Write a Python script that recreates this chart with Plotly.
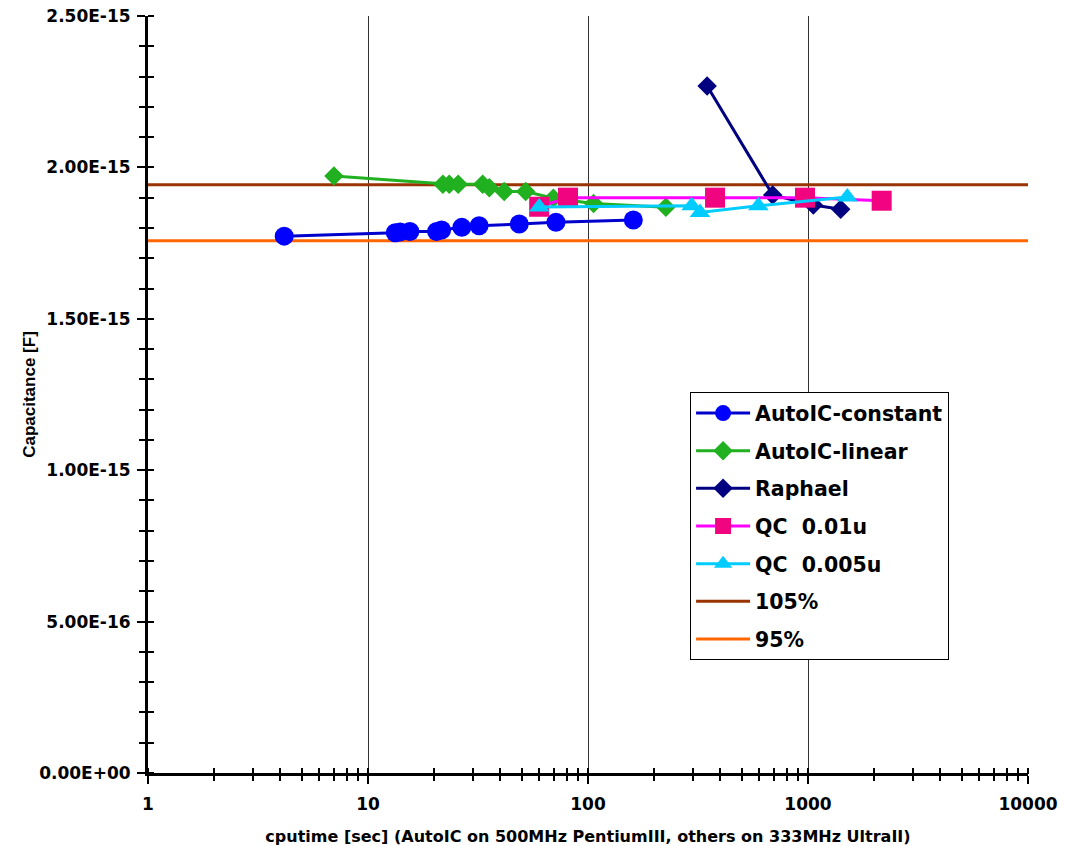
import plotly.graph_objects as go

# ---- data ----
cpu_const = [4.16, 13.3, 14.0, 15.5, 20.5, 21.6, 26.7, 32.0, 48.7, 71.5, 160.7]
cap_const = [1.773e-15, 1.784e-15, 1.787e-15, 1.788e-15, 1.788e-15, 1.793e-15,
             1.802e-15, 1.807e-15, 1.813e-15, 1.819e-15, 1.826e-15]

cpu_lin = [7.0, 21.9, 23.4, 25.7, 33.2, 35.6, 41.6, 52.1, 69.6, 106.0, 226.0]
cap_lin = [1.972e-15, 1.944e-15, 1.944e-15, 1.944e-15, 1.944e-15, 1.933e-15,
           1.920e-15, 1.920e-15, 1.898e-15, 1.881e-15, 1.868e-15]

cpu_raph = [348.0, 691.0, 1057.0, 1408.0]
cap_raph = [2.269e-15, 1.909e-15, 1.876e-15, 1.862e-15]

cpu_qc1 = [60.0, 81.1, 378.0, 969.0, 2162.0]
cap_qc1 = [1.870e-15, 1.900e-15, 1.900e-15, 1.900e-15, 1.890e-15]

cpu_qc05 = [60.0, 296.0, 323.0, 595.0, 1509.0]
cap_qc05 = [1.869e-15, 1.873e-15, 1.851e-15, 1.873e-15, 1.902e-15]

ref_x = [1, 10000]
upper_105 = [1.9425e-15, 1.9425e-15]
lower_95 = [1.7575e-15, 1.7575e-15]

x_tickvals = [1, 10, 100, 1000, 10000]
x_ticktext = ["1", "10", "100", "1000", "10000"]
x_minor = [m * d for d in (1, 10, 100, 1000) for m in range(2, 10)]
y_tickvals = [0, 5e-16, 1e-15, 1.5e-15, 2e-15, 2.5e-15]
y_ticktext = ["0.00E+00", "5.00E-16", "1.00E-15", "1.50E-15", "2.00E-15", "2.50E-15"]

TICKFONT = dict(family="DejaVu Sans", size=17, color="black", weight="bold")
TITLEFONT = dict(family="Liberation Sans", size=17, color="black", weight="bold")

W, H = 1068, 846
ML, MR, MT, MB = 148, 40, 16, 73
PLOT_W, PLOT_H = W - ML - MR, H - MT - MB
INNER = 6  # length of the tick part that reaches into the plot

fig = go.Figure()

# reference lines (behind, on first subplot)
fig.add_trace(go.Scatter(x=ref_x, y=upper_105, mode="lines", name="105%",
                         line=dict(color="#993300", width=3),
                         legendrank=6, legendgroup="g6"))
fig.add_trace(go.Scatter(x=ref_x, y=lower_95, mode="lines", name="95%",
                         line=dict(color="#FF6600", width=3),
                         legendrank=7, legendgroup="g7"))

# data series (second subplot stacked on the same area)
fig.add_trace(go.Scatter(x=cpu_const, y=cap_const, mode="lines+markers",
                         name="AutoIC-constant", xaxis="x2", yaxis="y2",
                         line=dict(color="#0000CC", width=3),
                         marker=dict(symbol="circle", size=19, color="#0000FF"),
                         legendrank=1, legendgroup="g1"))
fig.add_trace(go.Scatter(x=cpu_lin, y=cap_lin, mode="lines+markers",
                         name="AutoIC-linear", xaxis="x2", yaxis="y2",
                         line=dict(color="#20B020", width=3),
                         marker=dict(symbol="diamond", size=15, color="#20B020"),
                         legendrank=2, legendgroup="g2"))
fig.add_trace(go.Scatter(x=cpu_raph, y=cap_raph, mode="lines+markers",
                         name="Raphael", xaxis="x2", yaxis="y2",
                         line=dict(color="#000080", width=3),
                         marker=dict(symbol="diamond", size=15, color="#000080"),
                         legendrank=3, legendgroup="g3"))
fig.add_trace(go.Scatter(x=cpu_qc1, y=cap_qc1, mode="lines+markers",
                         name="QC  0.01u", xaxis="x2", yaxis="y2",
                         line=dict(color="#FF00FF", width=3),
                         marker=dict(symbol="square", size=20, color="#F0047F"),
                         legendrank=4, legendgroup="g4"))
fig.add_trace(go.Scatter(x=cpu_qc05, y=cap_qc05, mode="lines+markers",
                         name="QC  0.005u", xaxis="x2", yaxis="y2",
                         line=dict(color="#00CCFF", width=3),
                         marker=dict(symbol="triangle-up", size=18, color="#00CCFF"),
                         legendrank=5, legendgroup="g5"))

common_x = dict(type="log", range=[0, 4], tickvals=x_tickvals, ticktext=x_ticktext,
                domain=[0, 1])
common_y = dict(range=[0, 2.5e-15], tickvals=y_tickvals, ticktext=y_ticktext,
                domain=[0, 1])

fig.update_layout(
    width=W, height=H,
    margin=dict(l=ML, r=MR, t=MT, b=MB, autoexpand=False),
    paper_bgcolor="white", plot_bgcolor="rgba(0,0,0,0)",
    showlegend=True,
    xaxis=dict(**common_x, anchor="y", showline=True, linecolor="black", linewidth=3,
               ticks="outside", ticklen=8, tickwidth=2, tickcolor="black",
               minor=dict(tickvals=x_minor, ticks="outside", ticklen=5,
                          tickwidth=2, tickcolor="black", showgrid=False),
               showgrid=True, gridcolor="#333333", gridwidth=1,
               zeroline=False, tickfont=TICKFONT, ticklabelstandoff=6,
               title=dict(text="cputime [sec] (AutoIC on 500MHz PentiumIII, others on 333MHz UltraII)",
                          font=dict(family="DejaVu Sans", size=16, color="black", weight="bold"),
                          standoff=19),
               automargin=False),
    yaxis=dict(**common_y, anchor="x", showline=True, linecolor="black", linewidth=3,
               ticks="outside", ticklen=8, tickwidth=2, tickcolor="black",
               minor=dict(dtick=1e-16, ticks="outside", ticklen=6,
                          tickwidth=2, tickcolor="black", showgrid=False),
               showgrid=False, zeroline=False, tickfont=TICKFONT,
               ticklabelstandoff=3,
               title=dict(text="Capacitance [F]", font=TITLEFONT, standoff=0),
               automargin=False),
    # second axes pair: same mapping, shifted line so their outside ticks
    # reach into the plot (ticks crossing the axis line)
    xaxis2=dict(**common_x, anchor="free", position=INNER / PLOT_H, side="bottom",
                showline=False, showgrid=False, zeroline=False,
                showticklabels=False, ticks="outside", ticklen=INNER, tickwidth=2,
                tickcolor="black",
                minor=dict(tickvals=x_minor, ticks="outside", ticklen=INNER,
                           tickwidth=2, tickcolor="black", showgrid=False)),
    yaxis2=dict(**common_y, anchor="free", position=INNER / PLOT_W, side="left",
                showline=False, showgrid=False, zeroline=False,
                showticklabels=False, ticks="outside", ticklen=INNER, tickwidth=2,
                tickcolor="black",
                minor=dict(dtick=1e-16, ticks="outside", ticklen=INNER,
                           tickwidth=2, tickcolor="black", showgrid=False)),
    legend=dict(x=0.616, y=0.503, xanchor="left", yanchor="top",
                bgcolor="white", bordercolor="black", borderwidth=1,
                font=dict(family="DejaVu Sans", size=20.5, color="black", weight="bold"),
                itemwidth=54, tracegroupgap=8, traceorder="grouped"),
)

fig.write_html("out.html")
